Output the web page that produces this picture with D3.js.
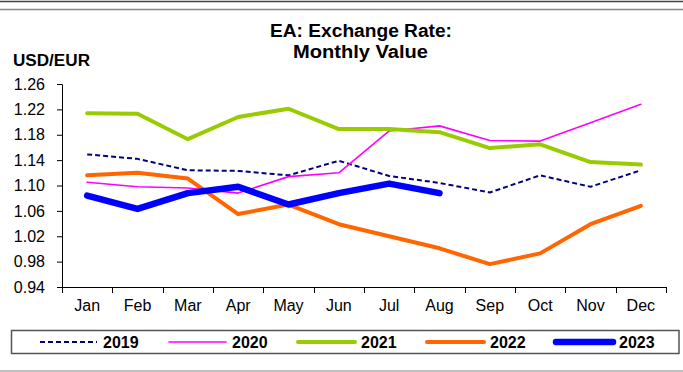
<!DOCTYPE html>
<html>
<head>
<meta charset="utf-8">
<script src="https://cdn.jsdelivr.net/npm/d3@7/dist/d3.min.js"></script>
<style>
  html, body { margin: 0; padding: 0; background: #fff; }
  svg { display: block; font-family: "Liberation Sans", Arial, sans-serif; }
</style>
</head>
<body>
<svg id="chart" width="683" height="372"></svg>
<script>
// Monthly USD/EUR averages by year
const months = ["Jan","Feb","Mar","Apr","May","Jun","Jul","Aug","Sep","Oct","Nov","Dec"];
const yTicks = [0.94, 0.98, 1.02, 1.06, 1.10, 1.14, 1.18, 1.22, 1.26];
const years = ["2019", "2020", "2021", "2022", "2023"];

const v2019 = [1.149, 1.142, 1.124, 1.123, 1.116, 1.139, 1.115, 1.104, 1.089, 1.116, 1.098, 1.124];
const v2020 = [1.105, 1.098, 1.096, 1.088, 1.114, 1.120, 1.186, 1.194, 1.171, 1.170, 1.199, 1.228];
const v2021 = [1.214, 1.213, 1.173, 1.208, 1.221, 1.189, 1.189, 1.184, 1.159, 1.165, 1.137, 1.133];
const v2022 = [1.116, 1.120, 1.111, 1.055, 1.070, 1.039, 1.020, 1.001, 0.976, 0.993, 1.039, 1.068];
const v2023 = [1.084, 1.063, 1.088, 1.098, 1.070, 1.088, 1.103, 1.088];

const seriesValues = [v2019, v2020, v2021, v2022, v2023];
const colors = ["#000080", "#ff00ff", "#99cc00", "#ff6600", "#0000ff"];
const widths = [2, 1.6, 4, 4, 6.5];
const dashes = ["5,3", null, null, null, null];

const svg = d3.select("#chart");

// Page rules above and below the chart
svg.append("line").attr("x1", 0).attr("x2", 683).attr("y1", 1.5).attr("y2", 1.5)
  .attr("stroke", "#444").attr("stroke-width", 1.5);
svg.append("line").attr("x1", 0).attr("x2", 683).attr("y1", 9.5).attr("y2", 9.5)
  .attr("stroke", "#888").attr("stroke-width", 1.5);
svg.append("line").attr("x1", 0).attr("x2", 683).attr("y1", 371).attr("y2", 371)
  .attr("stroke", "#aaa").attr("stroke-width", 1.5);

// Title
svg.append("text").attr("x", 361).attr("y", 36.5).attr("text-anchor", "middle")
  .attr("font-size", 18).attr("font-weight", "bold")
  .attr("textLength", 182).attr("lengthAdjust", "spacingAndGlyphs")
  .text("EA: Exchange Rate:");
svg.append("text").attr("x", 360.5).attr("y", 58).attr("text-anchor", "middle")
  .attr("font-size", 18).attr("font-weight", "bold")
  .attr("textLength", 135).attr("lengthAdjust", "spacingAndGlyphs")
  .text("Monthly Value");

svg.append("text").attr("x", 13).attr("y", 65.5)
  .attr("font-size", 16).attr("font-weight", "bold")
  .attr("textLength", 77).attr("lengthAdjust", "spacingAndGlyphs")
  .text("USD/EUR");

// Plot area bounds
const plotLeft = 62, plotRight = 666, plotTop = 84, plotBottom = 287;
const x = d3.scaleBand().domain(months).range([plotLeft, plotRight]).padding(0);
const xEdge = d3.scaleLinear().domain([0, months.length]).range([plotLeft, plotRight]);
const y = d3.scaleLinear().domain([0.94, 1.26]).range([plotBottom, plotTop]);

// Y axis
const yAxis = d3.axisLeft(y).tickValues(yTicks).tickSize(5).tickPadding(12)
  .tickFormat(d3.format(".2f"));
const gy = svg.append("g").attr("transform", `translate(${plotLeft},0)`).call(yAxis);
gy.select(".domain").attr("stroke", "#000");
gy.selectAll(".tick line").attr("stroke", "#000");
gy.selectAll(".tick text").attr("font-size", 16).attr("fill", "#000")
  .attr("font-family", "Liberation Sans, Arial, sans-serif");

// X axis: labels centred in each month, ticks on month boundaries
const xAxis = d3.axisBottom(x).tickSize(0).tickPadding(13);
const gx = svg.append("g").attr("transform", `translate(0,${plotBottom})`).call(xAxis);
gx.select(".domain").remove();
gx.selectAll(".tick text").attr("font-size", 16).attr("fill", "#000")
  .attr("font-family", "Liberation Sans, Arial, sans-serif");
svg.append("line").attr("x1", plotLeft).attr("x2", plotRight)
  .attr("y1", plotBottom + 0.5).attr("y2", plotBottom + 0.5)
  .attr("stroke", "#000");
svg.append("g").selectAll("line").data(d3.range(months.length + 1)).join("line")
  .attr("x1", d => Math.round(xEdge(d)) + 0.5).attr("x2", d => Math.round(xEdge(d)) + 0.5)
  .attr("y1", plotBottom).attr("y2", plotBottom + 6).attr("stroke", "#000");

// Series lines
const line = d3.line()
  .x((d, i) => x(months[i]) + x.bandwidth() / 2)
  .y(d => y(d));

svg.append("g").selectAll("path").data(seriesValues).join("path")
  .attr("d", d => line(d))
  .attr("fill", "none")
  .attr("stroke", (d, i) => colors[i])
  .attr("stroke-width", (d, i) => widths[i])
  .attr("stroke-dasharray", (d, i) => dashes[i])
  .attr("stroke-linejoin", "round")
  .attr("stroke-linecap", (d, i) => dashes[i] ? "butt" : "round");

// Legend
svg.append("rect").attr("x", 11.5).attr("y", 330.5).attr("width", 667.5).attr("height", 23)
  .attr("fill", "#fff").attr("stroke", "#555").attr("stroke-width", 1.5);

const legendX = d3.scalePoint().domain(years).range([40, 556]);
const lg = svg.append("g").selectAll("g").data(years).join("g")
  .attr("transform", d => `translate(${legendX(d)},342)`);
lg.append("line").attr("x1", 0).attr("x2", 57).attr("y1", 0).attr("y2", 0)
  .attr("stroke", (d, i) => colors[i])
  .attr("stroke-width", (d, i) => widths[i])
  .attr("stroke-dasharray", (d, i) => dashes[i])
  .attr("stroke-linecap", (d, i) => dashes[i] ? "butt" : "round");
lg.append("text").attr("x", 63).attr("y", 5.7)
  .attr("font-size", 16).attr("font-weight", "bold").attr("fill", "#000")
  .text(d => d);
</script>
</body>
</html>
